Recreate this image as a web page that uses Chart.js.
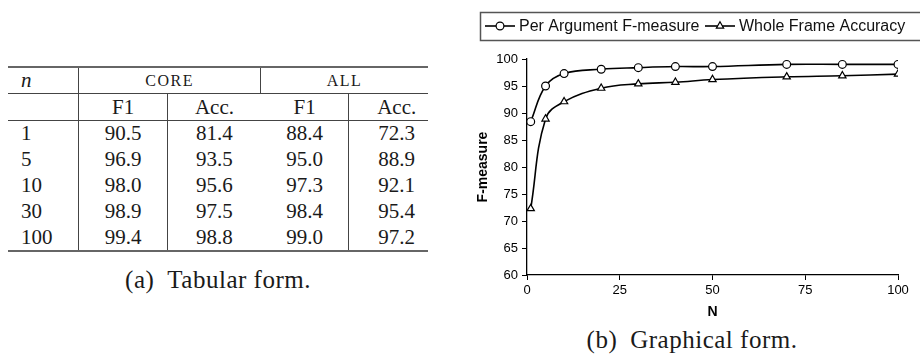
<!DOCTYPE html>
<html>
<head>
<meta charset="utf-8">
<script src="https://cdn.jsdelivr.net/npm/chart.js@4"></script>
<style>
    body { margin: 0; width: 920px; height: 357px; background: #fff; overflow: hidden; position: relative; }
    #tbl {
        position: absolute; left: 8px; top: 66px;
        border-collapse: collapse;
        font-family: "Liberation Serif", serif; font-size: 21px; color: #1a1a1a;
        border-top: 2px solid #666; border-bottom: 2px solid #666;
    }
    #tbl td { padding: 0; height: 25.8px; text-align: center; line-height: 21px; }
    #tbl tr.h1 td { height: 25px; border-bottom: 1px solid #444; }
    #tbl tr.h2 td { height: 26px; border-bottom: 1px solid #444; }
    #tbl td.n { text-align: left; padding-left: 13px; }
    #tbl td.vr { border-right: 1px solid #444; }
    #tbl td.last { padding-left: 16px; }
    .sc { font-size: 16px; letter-spacing: 1.5px; }
    .cap { position: absolute; font-family: "Liberation Serif", serif; font-size: 25px; letter-spacing: 0.5px; color: #1a1a1a; text-align: center; line-height: 28px; white-space: nowrap; }
    #chartWrap { position: absolute; left: 460px; top: 0; width: 460px; height: 322px; }
</style>
</head>
<body>
<table id="tbl">
    <colgroup>
        <col style="width:70.7px"><col style="width:89px"><col style="width:93px"><col style="width:88.3px"><col style="width:79px">
    </colgroup>
    <tbody id="tbody">
        <tr class="h1"><td class="n vr"><i>n</i></td><td colspan="2" class="vr sc">CORE</td><td colspan="2" class="sc">ALL</td></tr>
        <tr class="h2"><td class="n vr"></td><td class="vr">F1</td><td>Acc.</td><td class="vr">F1</td><td class="last">Acc.</td></tr>
    </tbody>
</table>
<div class="cap" style="left:68px; width:300px; top:266px;">(a)&ensp;Tabular form.</div>

<div id="chartWrap"><canvas id="chart" width="460" height="322"></canvas></div>
<div class="cap" style="left:542px; width:300px; top:326px;">(b)&ensp;Graphical form.</div>

<script>
const tableN = [1, 5, 10, 30, 100];
const coreF1 = [90.5, 96.9, 98.0, 98.9, 99.4];
const coreAcc = [81.4, 93.5, 95.6, 97.5, 98.8];
const allF1 = [88.4, 95.0, 97.3, 98.4, 99.0];
const allAcc = [72.3, 88.9, 92.1, 95.4, 97.2];

const nValues = [1, 5, 10, 20, 30, 40, 50, 70, 85, 100];
const perArgumentF = [88.4, 95.0, 97.3, 98.1, 98.4, 98.6, 98.6, 99.0, 99.0, 99.0];
const wholeFrameAcc = [72.3, 88.9, 92.1, 94.6, 95.4, 95.7, 96.2, 96.7, 96.9, 97.2];

const seriesLabels = ['Per Argument F-measure', 'Whole Frame Accuracy'];
const yTicks = [60, 100, 5];
const xTicks = [0, 100, 25];

const tbody = document.getElementById('tbody');
tableN.forEach((n, i) => {
    const tr = document.createElement('tr');
    const cells = [
        [n, 'n vr'],
        [coreF1[i].toFixed(1), 'vr'],
        [coreAcc[i].toFixed(1), ''],
        [allF1[i].toFixed(1), 'vr'],
        [allAcc[i].toFixed(1), 'last']
    ];
    cells.forEach(([text, cls]) => {
        const td = document.createElement('td');
        td.textContent = text;
        if (cls) td.className = cls;
        tr.appendChild(td);
    });
    tbody.appendChild(tr);
});

const toPoints = (ys) => nValues.map((x, i) => ({ x, y: ys[i] }));

// legend drawn in a box above the plot, like the original
const boxedLegend = {
    id: 'boxedLegend',
    afterDraw(chart) {
        const ctx = chart.ctx;
        const y = 26;
        const starts = [25, 245];
        ctx.save();
        ctx.strokeStyle = '#555';
        ctx.lineWidth = 1.5;
        ctx.strokeRect(20.5, 12.5, 460, 28);
        chart.data.datasets.forEach((ds, i) => {
            const x0 = starts[i];
            ctx.strokeStyle = ds.borderColor;
            ctx.lineWidth = ds.borderWidth;
            ctx.beginPath();
            ctx.moveTo(x0, y);
            ctx.lineTo(x0 + 30, y);
            ctx.stroke();
            ctx.fillStyle = '#fff';
            ctx.lineWidth = ds.pointBorderWidth;
            Chart.helpers.drawPoint(ctx, {
                pointStyle: ds.pointStyle, radius: ds.pointRadius,
                borderWidth: ds.pointBorderWidth, rotation: 0
            }, x0 + 15, y);
            ctx.fillStyle = '#111';
            ctx.font = '16px "Liberation Sans", Arial, sans-serif';
            ctx.textBaseline = 'middle';
            ctx.textAlign = 'left';
            ctx.fillText(ds.label, x0 + 34, y + 0.5);
        });
        ctx.restore();
    }
};

const tickFont = { family: '"Liberation Sans", Arial, sans-serif', size: 13 };
const titleFont = { family: '"Liberation Sans", Arial, sans-serif', size: 14, weight: 'bold' };

new Chart(document.getElementById('chart'), {
    type: 'line',
    data: {
        datasets: [
            {
                label: seriesLabels[0],
                data: toPoints(perArgumentF),
                borderColor: '#000',
                borderWidth: 1.6,
                pointStyle: 'circle',
                pointRadius: 3.9,
                pointBackgroundColor: '#fff',
                pointBorderColor: '#000',
                pointBorderWidth: 1.2,
                tension: 0.4
            },
            {
                label: seriesLabels[1],
                data: toPoints(wholeFrameAcc),
                borderColor: '#000',
                borderWidth: 1.6,
                pointStyle: 'triangle',
                pointRadius: 4.2,
                pointBackgroundColor: '#fff',
                pointBorderColor: '#000',
                pointBorderWidth: 1.2,
                tension: 0.4
            }
        ]
    },
    options: {
        responsive: false,
        animation: false,
        devicePixelRatio: 1,
        layout: { padding: { top: 59, right: 22, bottom: 0, left: 0 } },
        plugins: { legend: { display: false }, tooltip: { enabled: false } },
        scales: {
            x: {
                type: 'linear',
                min: xTicks[0], max: xTicks[1],
                ticks: { stepSize: xTicks[2], color: '#000', font: tickFont, padding: 3, maxRotation: 0 },
                grid: { drawOnChartArea: false, tickLength: 5, color: '#000' },
                border: { color: '#000', width: 1.3 },
                title: { display: true, text: 'N', color: '#000', font: titleFont, padding: { top: 0, bottom: 1 } },
                afterFit: (scale) => { scale.height = 47; }
            },
            y: {
                min: yTicks[0], max: yTicks[1],
                ticks: { stepSize: yTicks[2], color: '#000', font: tickFont, padding: 4 },
                grid: { drawOnChartArea: false, tickLength: 5, color: '#000' },
                border: { color: '#000', width: 1.3 },
                title: { display: true, text: 'F-measure', color: '#000', font: titleFont, padding: { top: 15, bottom: 0 } },
                afterFit: (scale) => { scale.width = 67; }
            }
        }
    },
    plugins: [boxedLegend]
});
</script>
</body>
</html>
